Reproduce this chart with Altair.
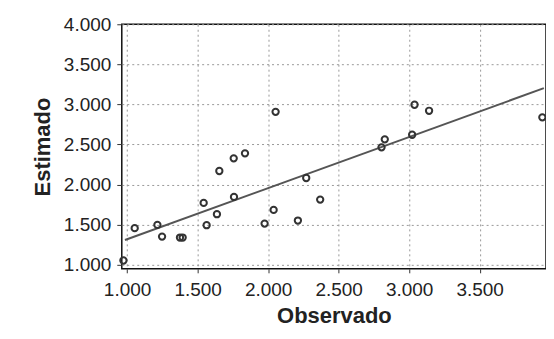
import altair as alt
import pandas as pd

observado = [0.974, 1.054, 1.215, 1.248, 1.375, 1.394, 1.543, 1.564, 1.637, 1.654,
             1.756, 1.758, 1.836, 1.975, 2.039, 2.053, 2.211, 2.270, 2.369, 2.804,
             2.827, 3.021, 3.038, 3.141, 3.944]
estimado = [1.054, 1.457, 1.498, 1.352, 1.340, 1.340, 1.772, 1.494, 1.631, 2.170,
            2.328, 1.847, 2.390, 1.514, 1.685, 2.908, 1.552, 2.083, 1.813, 2.465,
            2.565, 2.622, 2.996, 2.921, 2.839]
line_x = [0.985, 3.955]
line_y = [1.310, 3.203]
x_ticks = [1.0, 1.5, 2.0, 2.5, 3.0, 3.5]
y_ticks = [1.0, 1.5, 2.0, 2.5, 3.0, 3.5, 4.0]

pts = pd.DataFrame({"Observado": observado, "Estimado": estimado})
ln = pd.DataFrame({"Observado": line_x, "Estimado": line_y})

FONT = "Liberation Sans"

xscale = alt.Scale(domain=[0.9625, 3.97], nice=False, zero=False)
yscale = alt.Scale(domain=[0.95, 4.0], nice=False, zero=False)

xaxis = alt.Axis(values=x_ticks, format=".3f", title="Observado",
                 labelFont=FONT, labelFontSize=19, labelColor="#222",
                 titleFont=FONT, titleFontSize=22, titleFontWeight="bold", titleColor="#222",
                 tickSize=4, tickColor="#333", labelPadding=8, titlePadding=6,
                 grid=True, gridColor="#999", gridDash=[2, 3], gridWidth=1,
                 domain=False)
yaxis = alt.Axis(values=y_ticks, format=".3f", title="Estimado",
                 labelFont=FONT, labelFontSize=19, labelColor="#222",
                 titleFont=FONT, titleFontSize=22, titleFontWeight="bold", titleColor="#222",
                 tickSize=5, tickColor="#333", labelPadding=6, titlePadding=9,
                 grid=True, gridColor="#999", gridDash=[2, 3], gridWidth=1,
                 domain=False)

points = alt.Chart(pts).mark_point(shape="circle", filled=False, size=40,
                                   stroke="#333", strokeWidth=2, opacity=1).encode(
    x=alt.X("Observado:Q", scale=xscale, axis=xaxis),
    y=alt.Y("Estimado:Q", scale=yscale, axis=yaxis),
)

line = alt.Chart(ln).mark_line(color="#555", strokeWidth=2).encode(
    x=alt.X("Observado:Q", scale=xscale),
    y=alt.Y("Estimado:Q", scale=yscale),
)

chart = alt.layer(line, points).properties(
    width=425, height=245,
    autosize=alt.AutoSizeParams(type="none"),
    padding={"left": 114, "top": 16, "right": 0, "bottom": 60},
    background="white",
).configure_view(stroke="#111", strokeWidth=1.5)

chart.save("out.html", embed_options={"renderer": "svg", "actions": False})
